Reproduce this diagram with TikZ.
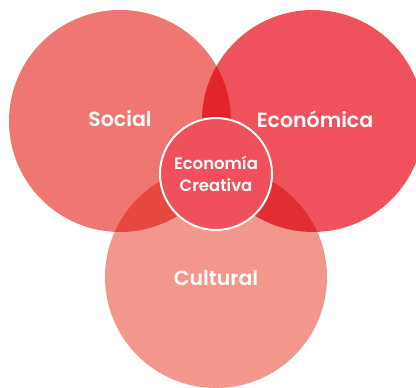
\documentclass[tikz,border=0pt]{standalone}
\usepackage{fontspec}
\newfontfamily\popfont{Poppins}[UprightFont=* SemiBold]
\definecolor{socialc}{HTML}{F07672}
\definecolor{econc}{HTML}{EF525C}
\definecolor{cultc}{HTML}{F3968C}
\definecolor{secol}{HTML}{E2252B}
\definecolor{sccol}{HTML}{E8473F}
\definecolor{eccol}{HTML}{E22D33}
\definecolor{centc}{HTML}{EF505B}
\tikzset{
  big/.style={circle, inner sep=0pt, minimum size=222pt},
  lbl/.style={text=white, inner sep=0pt, font=\popfont\fontsize{20.5}{24}\selectfont},
  core/.style={circle, inner sep=0pt, minimum size=112pt, fill=centc, draw=white, line width=2pt, text=white, align=center, font=\popfont\fontsize{16.5}{22}\selectfont}
}
\begin{document}
\begin{tikzpicture}[x=1pt,y=-1pt]
\useasboundingbox (0,0) rectangle (416,388);
\node[big, fill=socialc] (social) at (120,121) {};
\node[big, fill=econc] (econ) at (313,121) {};
\node[big, fill=cultc] (cult) at (216,277) {};
\begin{scope}
  \clip (120,121) circle (111pt);
  \fill[secol] (313,121) circle (111pt);
  \fill[sccol] (216,277) circle (111pt);
\end{scope}
\begin{scope}
  \clip (313,121) circle (111pt);
  \fill[eccol] (216,277) circle (111pt);
\end{scope}
\node[core] (center) at (216,174) {Economía\\Creativa};
\node[lbl] (lsocial) at (120,119) {Social};
\node[lbl] (lecon) at (315,119) {Económica};
\node[lbl] (lcult) at (216,278) {Cultural};
\end{tikzpicture}
\end{document}
